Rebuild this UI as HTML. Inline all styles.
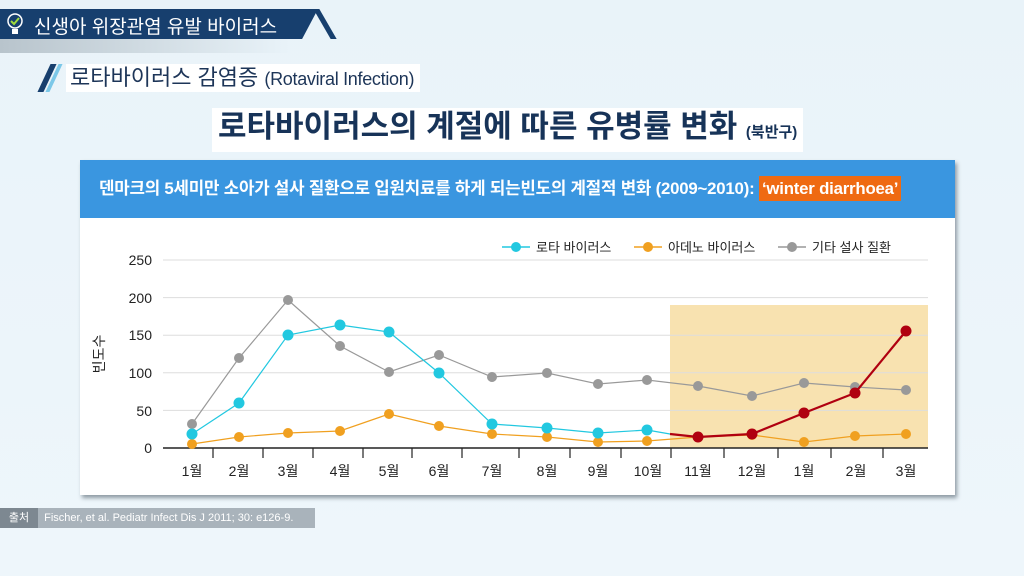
<!DOCTYPE html>
<html><head><meta charset="utf-8"><style>
body{margin:0;width:1024px;height:576px;overflow:hidden;background:linear-gradient(180deg,#e9f3f9,#eef6fb);font-family:"Liberation Sans","Noto Sans CJK KR",sans-serif;position:relative}
.t1{position:absolute;left:0;top:9px;width:318px;height:30px;background:#173f6e;clip-path:polygon(0 0,100% 0,95% 100%,0 100%)}
.t1 span{position:absolute;left:34px;top:3px;color:#fff;font-size:19px}
.sl{position:absolute;top:9px;width:6px;height:30px;background:#173f6e;transform:skewX(30deg)}
.shade{position:absolute;left:0;top:39px;width:290px;height:14px;background:linear-gradient(90deg,#b8c4cc,#e9f3f9)}
.t2{position:absolute;left:66px;top:64px;font-size:22px;color:#1d3558;background:#fff;padding:0 6px 0 4px;height:28px;line-height:28px;white-space:nowrap}
.t2 small{font-size:18px;letter-spacing:-0.3px}
.t3{position:absolute;left:212px;top:108px;font-size:31px;font-weight:bold;color:#173358;background:#fff;padding:0 6px;line-height:38px;white-space:nowrap}
.t3 small{font-size:15px}
.card{position:absolute;left:80px;top:160px;width:875px;height:335px;background:#fff;box-shadow:2px 3px 4px #8e9aa3}
.hd{position:absolute;left:0;top:0;width:875px;height:58px;background:#3a96e0;color:#fff;font-size:16.8px;font-weight:bold;line-height:58px;padding-left:19px;box-sizing:border-box;white-space:nowrap;letter-spacing:-0.2px}
.hd b{background:#ef6a12;padding:3px 3px}
.src{position:absolute;left:0;top:508px;height:20px;width:315px;background:#a9b3bb;color:#fff;font-size:11px;line-height:20px;white-space:nowrap;overflow:hidden}
.src i{font-style:normal;display:inline-block;background:#7d8891;width:38px;text-align:center}
</style></head><body>
<div class="shade"></div>
<div class="t1"><span>신생아 위장관염 유발 바이러스</span></div>
<svg style="position:absolute;left:6px;top:12px" width="18" height="24"><circle cx="9" cy="9" r="7" fill="none" stroke="#fff" stroke-width="1.5"/><path d="M5 9l3 3 5-6" stroke="#9fdc3c" stroke-width="2" fill="none"/><rect x="6" y="17" width="6" height="5" fill="#fff"/></svg>
<div class="sl" style="left:322px"></div>
<div style="position:absolute;left:44px;top:64px;width:6px;height:28px;background:#173f6e;transform:skewX(-25deg)"></div>
<div style="position:absolute;left:52px;top:64px;width:4px;height:28px;background:#7cc8e8;transform:skewX(-25deg)"></div>
<div class="t2">로타바이러스 감염증 <small>(Rotaviral Infection)</small></div>
<div class="t3">로타바이러스의 계절에 따른 유병률 변화 <small>(북반구)</small></div>
<div class="card"><div class="hd">덴마크의 5세미만 소아가 설사 질환으로 입원치료를 하게 되는빈도의 계절적 변화 (2009~2010): <b>‘winter diarrhoea’</b></div></div>
<svg style="position:absolute;left:0;top:0" width="1024" height="576" font-family="Liberation Sans,Noto Sans CJK KR,sans-serif">
<rect x="670" y="305" width="258" height="143" fill="#f8e2b0"/>
<g stroke="#ddd" stroke-width="1"><line x1="163" x2="928" y1="260" y2="260"/><line x1="163" x2="928" y1="297.6" y2="297.6"/><line x1="163" x2="928" y1="335.2" y2="335.2"/><line x1="163" x2="928" y1="372.8" y2="372.8"/><line x1="163" x2="928" y1="410.4" y2="410.4"/></g>
<line x1="163" x2="928" y1="448" y2="448" stroke="#222" stroke-width="1.5"/>
<g stroke="#222" stroke-width="1.2"><path d="M213 448v10M263 448v10M313 448v10M363 448v10M412 448v10M462 448v10M519 448v10M570 448v10M621 448v10M671 448v10M724 448v10M778 448v10M831 448v10M883 448v10"/></g>
<g font-size="14" fill="#222" text-anchor="end"><text x="152" y="265">250</text><text x="152" y="303">200</text><text x="152" y="340">150</text><text x="152" y="378">100</text><text x="152" y="416">50</text><text x="152" y="453">0</text></g>
<text transform="translate(104,354) rotate(-90)" font-size="14" text-anchor="middle" fill="#222">빈도수</text>
<g font-size="14" fill="#222" text-anchor="middle"><text x="192" y="476">1월</text><text x="239" y="476">2월</text><text x="288" y="476">3월</text><text x="340" y="476">4월</text><text x="389" y="476">5월</text><text x="439" y="476">6월</text><text x="492" y="476">7월</text><text x="547" y="476">8월</text><text x="598" y="476">9월</text><text x="648" y="476">10월</text><text x="698" y="476">11월</text><text x="752" y="476">12월</text><text x="804" y="476">1월</text><text x="856" y="476">2월</text><text x="906" y="476">3월</text></g>
<polyline fill="none" stroke="#999" stroke-width="1.2" points="192,424 239,358 288,300 340,346 389,372 439,355 492,377 547,373 598,384 647,380 698,386 752,396 804,383 855,387 906,390"/>
<g fill="#999"><circle cx="192" cy="424" r="5"/><circle cx="239" cy="358" r="5"/><circle cx="288" cy="300" r="5"/><circle cx="340" cy="346" r="5"/><circle cx="389" cy="372" r="5"/><circle cx="439" cy="355" r="5"/><circle cx="492" cy="377" r="5"/><circle cx="547" cy="373" r="5"/><circle cx="598" cy="384" r="5"/><circle cx="647" cy="380" r="5"/><circle cx="698" cy="386" r="5"/><circle cx="752" cy="396" r="5"/><circle cx="804" cy="383" r="5"/><circle cx="855" cy="387" r="5"/><circle cx="906" cy="390" r="5"/></g>
<polyline fill="none" stroke="#f0a020" stroke-width="1.2" points="192,444 239,437 288,433 340,431 389,414 439,426 492,434 547,437 598,442 647,441 698,437 752,435 804,442 855,436 906,434"/>
<g fill="#f0a020"><circle cx="192" cy="444" r="5"/><circle cx="239" cy="437" r="5"/><circle cx="288" cy="433" r="5"/><circle cx="340" cy="431" r="5"/><circle cx="389" cy="414" r="5"/><circle cx="439" cy="426" r="5"/><circle cx="492" cy="434" r="5"/><circle cx="547" cy="437" r="5"/><circle cx="598" cy="442" r="5"/><circle cx="647" cy="441" r="5"/><circle cx="698" cy="437" r="5"/><circle cx="752" cy="435" r="5"/><circle cx="804" cy="442" r="5"/><circle cx="855" cy="436" r="5"/><circle cx="906" cy="434" r="5"/></g>
<polyline fill="none" stroke="#22c8e0" stroke-width="1.2" points="192,434 239,403 288,335 340,325 389,332 439,373 492,424 547,428 598,433 647,430 670,434"/>
<g fill="#22c8e0"><circle cx="192" cy="434" r="5.5"/><circle cx="239" cy="403" r="5.5"/><circle cx="288" cy="335" r="5.5"/><circle cx="340" cy="325" r="5.5"/><circle cx="389" cy="332" r="5.5"/><circle cx="439" cy="373" r="5.5"/><circle cx="492" cy="424" r="5.5"/><circle cx="547" cy="428" r="5.5"/><circle cx="598" cy="433" r="5.5"/><circle cx="647" cy="430" r="5.5"/></g>
<polyline fill="none" stroke="#b00010" stroke-width="2.2" points="670,434 698,437 752,434 804,413 855,393 906,331"/>
<g fill="#b00010"><circle cx="698" cy="437" r="5.5"/><circle cx="752" cy="434" r="5.5"/><circle cx="804" cy="413" r="5.5"/><circle cx="855" cy="393" r="5.5"/><circle cx="906" cy="331" r="5.5"/></g>
<g font-size="13" fill="#222"><line x1="502" x2="530" y1="247" y2="247" stroke="#22c8e0" stroke-width="1.5"/><circle cx="516" cy="247" r="5" fill="#22c8e0"/><text x="536" y="252">로타 바이러스</text>
<line x1="634" x2="662" y1="247" y2="247" stroke="#f0a020" stroke-width="1.5"/><circle cx="648" cy="247" r="5" fill="#f0a020"/><text x="668" y="252">아데노 바이러스</text>
<line x1="778" x2="806" y1="247" y2="247" stroke="#999" stroke-width="1.5"/><circle cx="792" cy="247" r="5" fill="#999"/><text x="812" y="252">기타 설사 질환</text></g>
</svg>
<div class="src"><i>출처</i> &nbsp;Fischer, et al. Pediatr Infect Dis J 2011; 30: e126-9.</div>
</body></html>
